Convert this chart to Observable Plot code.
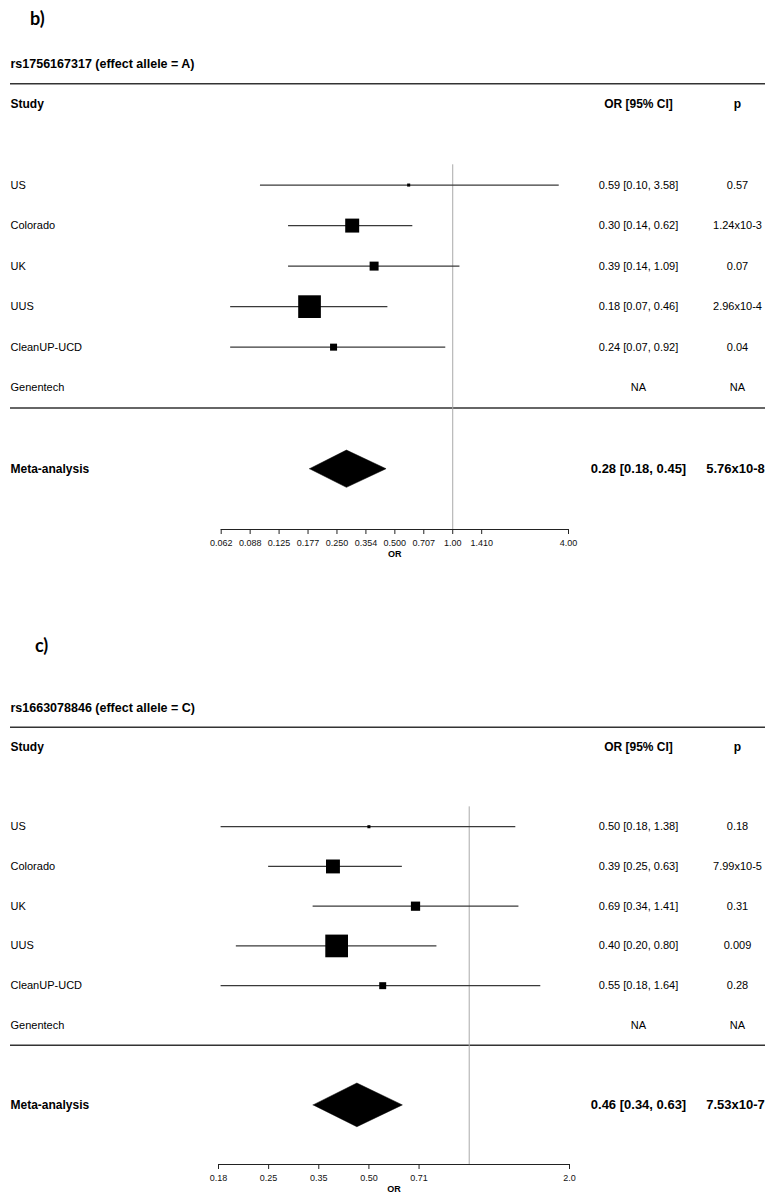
<!DOCTYPE html>
<html><head><meta charset="utf-8">
<script src="https://cdn.jsdelivr.net/npm/d3@7"></script>
<script src="https://cdn.jsdelivr.net/npm/@observablehq/plot@0.6"></script>
<style>
body{margin:0;background:#fff;width:770px;overflow:hidden;}
.plabel{font-family:Lato,"Open Sans",sans-serif;font-weight:700;font-size:18px;line-height:18px;box-sizing:border-box;color:#000;}
svg{display:block}
</style></head><body>
<div class="plabel" style="height:40px;padding:9px 0 0 30px">b)</div>
<div id="pb"></div>
<div class="plabel" style="height:120px;padding:72px 0 0 35px">c)</div>
<div id="pc"></div>
<script>
const studies = ["US", "Colorado", "UK", "UUS", "CleanUP-UCD", "Genentech"];

// panel b
const snpB = "rs1756167317 (effect allele = A)";
const orB = [0.59, 0.30, 0.39, 0.18, 0.24, null];
const loB = [0.10, 0.14, 0.14, 0.07, 0.07, null];
const hiB = [3.58, 0.62, 1.09, 0.46, 0.92, null];
const pB = ["0.57", "1.24x10-3", "0.07", "2.96x10-4", "0.04", "NA"];
const weightB = [1.1, 23.0, 9.5, 60.6, 5.8, null];
const metaB = [0.28, 0.18, 0.45];
const metaPB = "5.76x10-8";
const ticksB = [0.0625, 0.0884, 0.125, 0.1768, 0.25, 0.3536, 0.5, 0.7071, 1, 1.4142, 4];
const tickLabelsB = ["0.062", "0.088", "0.125", "0.177", "0.250", "0.354", "0.500", "0.707", "1.00", "1.410", "4.00"];

// panel c
const snpC = "rs1663078846 (effect allele = C)";
const orC = [0.50, 0.39, 0.69, 0.40, 0.55, null];
const loC = [0.18, 0.25, 0.34, 0.20, 0.18, null];
const hiC = [1.38, 0.63, 1.41, 0.80, 1.64, null];
const pC = ["0.18", "7.99x10-5", "0.31", "0.009", "0.28", "NA"];
const weightC = [1.1, 22.7, 10.0, 60.5, 5.7, null];
const metaC = [0.46, 0.34, 0.63];
const metaPC = "7.53x10-7";
const ticksC = [0.1768, 0.25, 0.3536, 0.5, 0.7071, 2];
const tickLabelsC = ["0.18", "0.25", "0.35", "0.50", "0.71", "2.0"];

function forest({snp, or, lo, hi, p, w, meta, metaP, ticks, tickLabels, xRange, height, diamondHalf}) {
  const f = v => v.toFixed(2);
  const rows = studies.map((s, i) => ({
    study: s, row: i + 3, or: or[i], lo: lo[i], hi: hi[i], p: p[i], w: w[i],
    ci: or[i] == null ? "NA" : `${f(or[i])} [${f(lo[i])}, ${f(hi[i])}]`
  }));
  const est = rows.filter(d => d.or != null);
  const [mOr, mLo, mHi] = meta;
  const metaRow = 10, axisRow = 11.5;
  const diamond = [
    {x: mLo, y: metaRow}, {x: mOr, y: metaRow - diamondHalf},
    {x: mHi, y: metaRow}, {x: mOr, y: metaRow + diamondHalf}, {x: mLo, y: metaRow}
  ];
  const tmin = ticks[0], tmax = ticks[ticks.length - 1];
  const tickData = ticks.map((v, i) => ({v, label: tickLabels[i]}));
  const colOR = -127, colP = -28;
  return Plot.plot({
    width: 770, height,
    marginTop: 23, marginBottom: 35, marginLeft: 10, marginRight: 5,
    style: {fontFamily: '"Liberation Sans", Arial, sans-serif', background: "#fff", color: "#000", overflow: "visible"},
    x: {type: "log", domain: [tmin, tmax], range: xRange},
    y: {domain: [0, axisRow], reverse: true, axis: null},
    r: {domain: [0, d3.max(w)], range: [0, 12.8]},
    marks: [
      Plot.ruleY([0.5, 8.5], {stroke: "#333", strokeWidth: 1.5}),
      Plot.ruleX([1], {y1: 2.5, y2: axisRow, stroke: "#aaa", strokeWidth: 1}),
      Plot.ruleY(est, {y: "row", x1: "lo", x2: "hi", stroke: "#3a3a3a", strokeWidth: 1.3}),
      Plot.dot(est, {x: "or", y: "row", r: "w", symbol: "square", fill: "#000", stroke: "none"}),
      Plot.line(diamond, {x: "x", y: "y", fill: "#000", stroke: "#000", strokeWidth: 0.5}),
      Plot.ruleY([axisRow], {x1: tmin, x2: tmax, stroke: "#222", strokeWidth: 1.2}),
      Plot.axisX({ticks, text: null, tickSize: 5, label: null, stroke: "#222"}),
      Plot.text(tickData, {x: "v", text: "label", frameAnchor: "bottom", dy: 16, fontSize: 9, fill: "#111"}),
      Plot.text(["OR"], {text: d => d, x: Math.sqrt(tmin * tmax), frameAnchor: "bottom", dy: 27, fontSize: 9, fontWeight: "bold"}),
      Plot.text([snp], {text: d => d, y: 0, frameAnchor: "left", textAnchor: "start", fontWeight: "bold", fontSize: 12.5}),
      Plot.text(["Study"], {text: d => d, y: 1, frameAnchor: "left", textAnchor: "start", fontWeight: "bold", fontSize: 12}),
      Plot.text(["OR [95% CI]"], {text: d => d, y: 1, frameAnchor: "right", dx: colOR, textAnchor: "middle", fontWeight: "bold", fontSize: 12}),
      Plot.text(["p"], {text: d => d, y: 1, frameAnchor: "right", dx: colP, textAnchor: "middle", fontWeight: "bold", fontSize: 12}),
      Plot.text(rows, {text: "study", y: "row", frameAnchor: "left", textAnchor: "start", fontSize: 11}),
      Plot.text(rows, {text: "ci", y: "row", frameAnchor: "right", dx: colOR, textAnchor: "middle", fontSize: 11}),
      Plot.text(rows, {text: "p", y: "row", frameAnchor: "right", dx: colP, textAnchor: "middle", fontSize: 11}),
      Plot.text(["Meta-analysis"], {text: d => d, y: metaRow, frameAnchor: "left", textAnchor: "start", fontWeight: "bold", fontSize: 12}),
      Plot.text([`${f(mOr)} [${f(mLo)}, ${f(mHi)}]`], {text: d => d, y: metaRow, frameAnchor: "right", dx: colOR, textAnchor: "middle", fontWeight: "bold", fontSize: 13}),
      Plot.text([metaP], {text: d => d, y: metaRow, frameAnchor: "right", dx: colP - 2, textAnchor: "middle", fontWeight: "bold", fontSize: 13})
    ]
  });
}

document.getElementById("pb").append(forest({
  snp: snpB, or: orB, lo: loB, hi: hiB, p: pB, w: weightB, meta: metaB, metaP: metaPB,
  ticks: ticksB, tickLabels: tickLabelsB, xRange: [220.7, 568], height: 524, diamondHalf: 0.46
}));
document.getElementById("pc").append(forest({
  snp: snpC, or: orC, lo: loC, hi: hiC, p: pC, w: weightC, meta: metaC, metaP: metaPC,
  ticks: ticksC, tickLabels: tickLabelsC, xRange: [218, 569], height: 515, diamondHalf: 0.55
}));
</script>
</body></html>
